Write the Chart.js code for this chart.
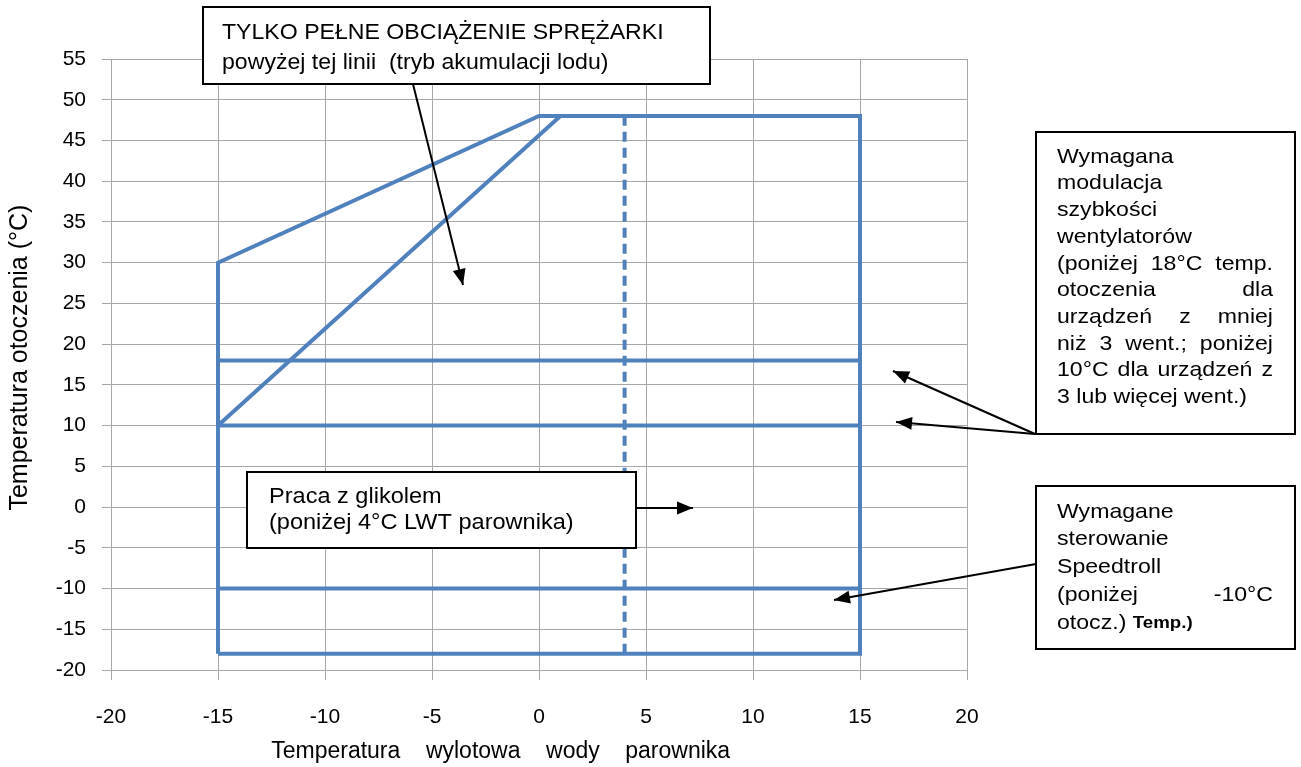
<!DOCTYPE html>
<html>
<head>
<meta charset="utf-8">
<script src="https://cdn.jsdelivr.net/npm/chart.js@4/dist/chart.umd.min.js"></script>
<style>
  html, body { margin: 0; padding: 0; background: #fff; }
  #wrap { width: 1301px; height: 767px; }
</style>
</head>
<body>
<div id="wrap"><canvas id="myChart" width="1301" height="767"></canvas></div>
<script>
// operating envelope
const envelopeX = [-15, -15, 0, 15, 15, -15];
const envelopeY = [-18, 30, 48, 48, -18, -18];
// "full load only" boundary
const fullLoadX = [-15, 1];
const fullLoadY = [10, 48];
// horizontal limits: fan modulation 18 / 10, speedtroll -10
const limitLevels = [18, 10, -10];
const limitFromX = -15;
const limitToX = 15;
// glycol limit (dashed)
const glycolX = 4;
const glycolFromY = -18;
const glycolToY = 48;

const xTicks = [-20, -15, -10, -5, 0, 5, 10, 15, 20];
const yTicks = [-20, -15, -10, -5, 0, 5, 10, 15, 20, 25, 30, 35, 40, 45, 50, 55];

const blue = "#4F81BD";
const gridColor = "#A6A6A6";
const font = '"Liberation Sans", Arial, sans-serif';

function pts(xs, ys) {
  return xs.map((x, i) => ({ x: x, y: ys[i] }));
}

const datasets = [
  { data: pts(envelopeX, envelopeY) },
  { data: pts(fullLoadX, fullLoadY) },
];
limitLevels.forEach((lv) => {
  datasets.push({ data: pts([limitFromX, limitToX], [lv, lv]) });
});
datasets.push({
  data: pts([glycolX, glycolX], [glycolFromY, glycolToY]),
  borderDash: [10, 6],
});
datasets.forEach((d) => {
  d.borderColor = blue;
  d.borderWidth = 4;
  d.pointRadius = 0;
  d.showLine = true;
  d.fill = false;
  d.borderJoinStyle = "miter";
});

// text boxes and arrows (page layout, pixels)
const boxes = [
  { x: 203, y: 7, w: 507, h: 77, left: 222, width: 0, top: 33, lh: 30, size: 22, sx: 1.05,
    lines: ["TYLKO PEŁNE OBCIĄŻENIE SPRĘŻARKI", "powyżej tej linii  (tryb akumulacji lodu)"] },
  { x: 1036, y: 132, w: 259, h: 302, left: 1057, width: 216, top: 157, lh: 26.7, size: 21, sx: 1.1, justify: true,
    lines: ["Wymagana", "modulacja", "szybkości", "wentylatorów", "(poniżej 18°C temp.",
            "otoczenia dla", "urządzeń z mniej", "niż 3 went.; poniżej",
            "10°C dla urządzeń z", "3 lub więcej went.)"] },
  { x: 1036, y: 486, w: 259, h: 163, left: 1057, width: 216, top: 512, lh: 27.7, size: 21, sx: 1.1, justify: true,
    lines: ["Wymagane", "sterowanie", "Speedtroll", "(poniżej -10°C", "otocz.) "], bold: "Temp.)" },
  { x: 247, y: 472, w: 389, h: 76, left: 269, width: 0, top: 497, lh: 26, size: 22, sx: 1.07,
    lines: ["Praca z glikolem", "(poniżej 4°C LWT parownika)"] },
];
const arrows = [
  [413, 84, 463, 285],
  [1035, 434, 893, 371],
  [1035, 434, 896, 422],
  [1036, 564, 834, 600],
  [636, 508, 693, 508],
];

function stretchText(ctx, text, x, y, sx) {
  ctx.save();
  ctx.translate(x, y);
  ctx.scale(sx, 1);
  ctx.fillText(text, 0, 0);
  ctx.restore();
}

const notes = {
  id: "notes",
  afterDraw(chart) {
    const ctx = chart.ctx;
    ctx.save();
    ctx.strokeStyle = "#000";
    ctx.fillStyle = "#000";
    ctx.lineWidth = 2;
    arrows.forEach(([x1, y1, x2, y2]) => {
      ctx.beginPath();
      ctx.moveTo(x1, y1);
      ctx.lineTo(x2, y2);
      ctx.stroke();
      const a = Math.atan2(y2 - y1, x2 - x1);
      const L = 16, W = 6.5;
      ctx.beginPath();
      ctx.moveTo(x2, y2);
      ctx.lineTo(x2 - L * Math.cos(a) + W * Math.sin(a), y2 - L * Math.sin(a) - W * Math.cos(a));
      ctx.lineTo(x2 - L * Math.cos(a) - W * Math.sin(a), y2 - L * Math.sin(a) + W * Math.cos(a));
      ctx.closePath();
      ctx.fill();
    });
    boxes.forEach((b) => {
      ctx.fillStyle = "#fff";
      ctx.fillRect(b.x, b.y, b.w, b.h);
      ctx.strokeStyle = "#000";
      ctx.lineWidth = 2;
      ctx.strokeRect(b.x, b.y, b.w, b.h);
      ctx.fillStyle = "#000";
      ctx.textBaseline = "middle";
      ctx.textAlign = "left";
      ctx.font = b.size + "px " + font;
      b.lines.forEach((line, i) => {
        const y = b.top + i * b.lh;
        const words = line.trim().split(/ +/);
        const last = i === b.lines.length - 1;
        if (b.justify && !last && words.length > 1) {
          const total = words.reduce((s, w) => s + ctx.measureText(w).width * b.sx, 0);
          const gap = (b.width - total) / (words.length - 1);
          let x = b.left;
          words.forEach((w) => {
            stretchText(ctx, w, x, y, b.sx);
            x += ctx.measureText(w).width * b.sx + gap;
          });
        } else {
          stretchText(ctx, line, b.left, y, b.sx);
          if (last && b.bold) {
            const w = ctx.measureText(line).width * b.sx;
            ctx.font = "bold 17px " + font;
            stretchText(ctx, b.bold, b.left + w, y + 1, b.sx);
            ctx.font = b.size + "px " + font;
          }
        }
      });
    });
    ctx.restore();
  },
};

new Chart(document.querySelector("#myChart"), {
  type: "scatter",
  data: { datasets: datasets },
  plugins: [notes],
  options: {
    responsive: false,
    animation: false,
    devicePixelRatio: 1,
    layout: { padding: { left: 0, top: 59, right: 334, bottom: 0 } },
    plugins: { legend: { display: false }, tooltip: { enabled: false } },
    scales: {
      x: {
        type: "linear",
        min: xTicks[0],
        max: xTicks[xTicks.length - 1],
        afterBuildTicks: (s) => { s.ticks = xTicks.map((v) => ({ value: v })); },
        afterFit: (s) => { s.height = 97; },
        ticks: { color: "#000", font: { family: font, size: 21 }, padding: 25 },
        grid: { color: gridColor, lineWidth: 1, tickLength: 10 },
        border: { color: gridColor, width: 1 },
        title: {
          display: true,
          text: "Temperatura    wylotowa    wody    parownika            ",
          color: "#000",
          font: { family: font, size: 23 },
          padding: { top: 0, bottom: 2 },
        },
      },
      y: {
        type: "linear",
        min: yTicks[0],
        max: yTicks[yTicks.length - 1],
        afterBuildTicks: (s) => { s.ticks = yTicks.map((v) => ({ value: v })); },
        afterFit: (s) => { s.width = 111; },
        ticks: { color: "#000", font: { family: font, size: 21 }, padding: 16 },
        grid: { color: gridColor, lineWidth: 1, tickLength: 9 },
        border: { color: gridColor, width: 1 },
        title: {
          display: true,
          text: "  Temperatura otoczenia (°C)",
          color: "#000",
          font: { family: font, size: 25 },
          padding: { top: 5, bottom: 0 },
        },
      },
    },
  },
});
</script>
</body>
</html>
